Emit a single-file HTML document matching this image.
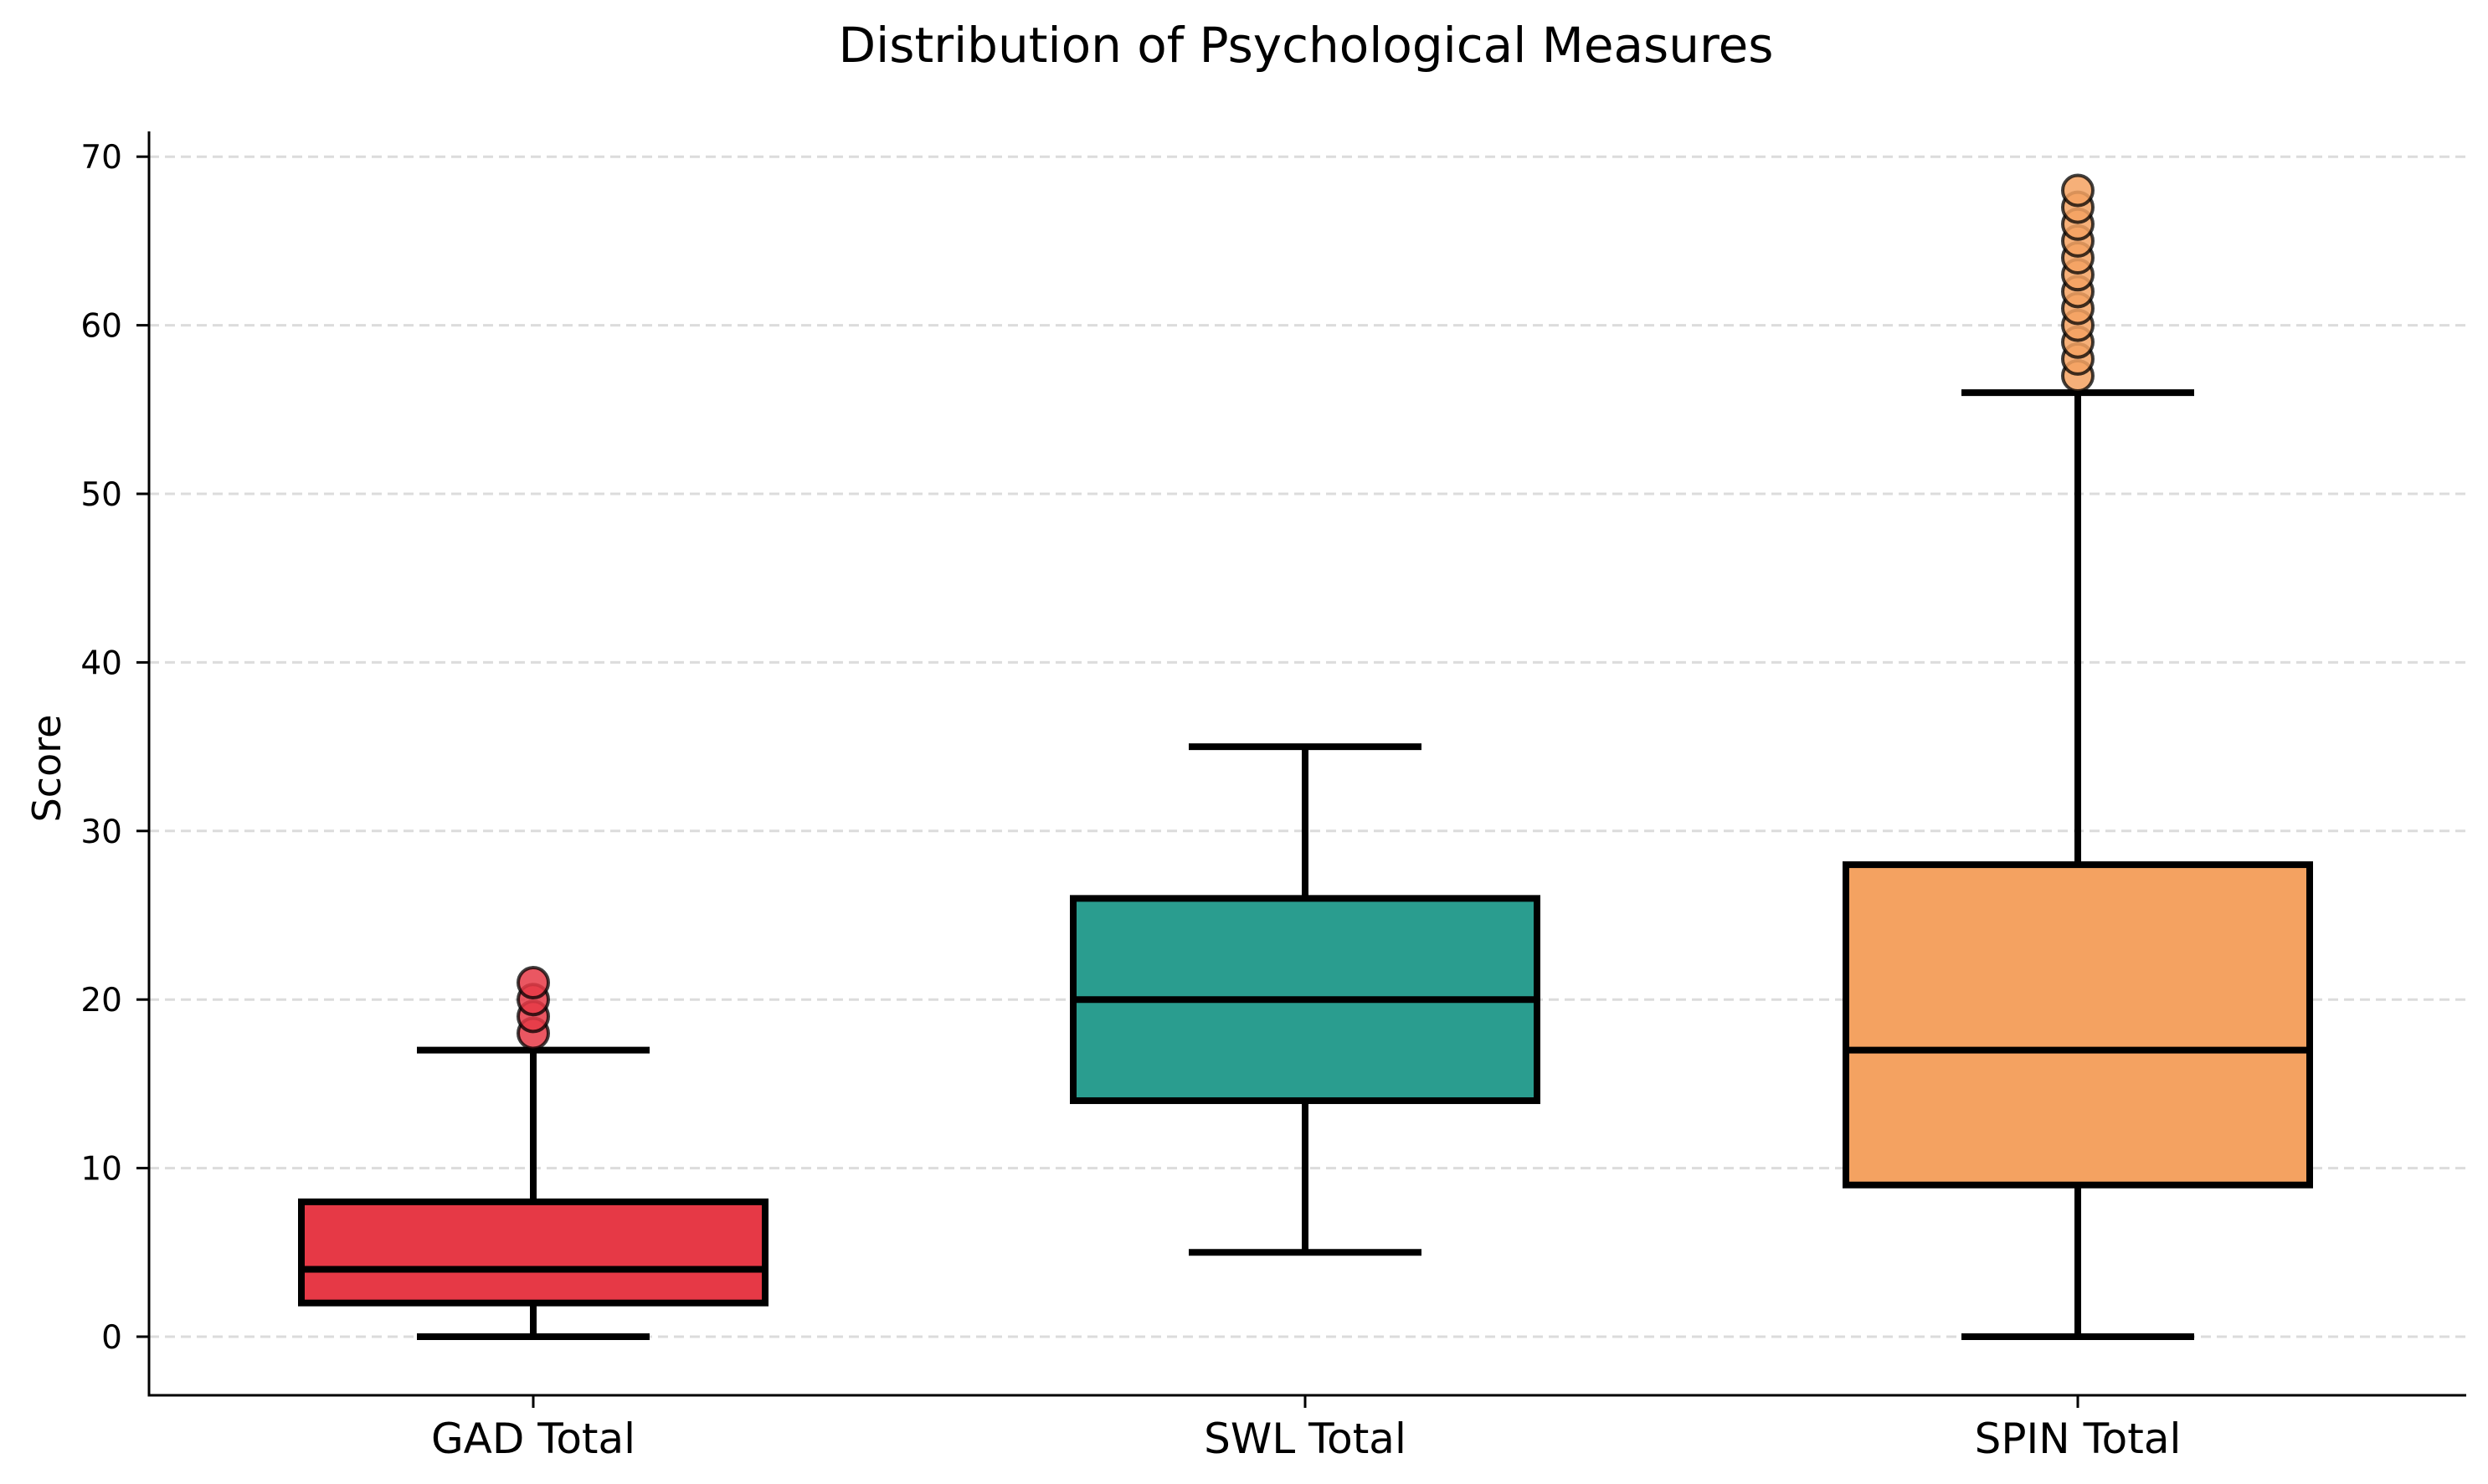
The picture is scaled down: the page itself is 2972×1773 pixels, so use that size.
<!DOCTYPE html>
<html><head><meta charset="utf-8"><style>
body{margin:0;background:#fff}
svg{display:block;font-family:"DejaVu Sans","Liberation Sans",sans-serif}
</style></head><body>
<svg id="chart" width="2972" height="1773" viewBox="0 0 2972 1773" xmlns="http://www.w3.org/2000/svg">
<text x="1560" y="74" font-size="58" text-anchor="middle">Distribution of Psychological Measures</text>
<text x="0" y="0" font-size="46" text-anchor="middle" transform="translate(72,918) rotate(-90)">Score</text>
<g id="grid"></g><g id="boxes"></g><g id="axes"></g>
</svg>
<script>
const categories = ["GAD Total","SWL Total","SPIN Total"];
const whiskerLow = [0,5,0];
const q1 = [2,14,9];
const medians = [4,20,17];
const q3 = [8,26,28];
const whiskerHigh = [17,35,56];
const outliers = [[18,19,20,21],[],[57,58,59,60,61,62,63,64,65,66,67,68]];
const colors = ["#e63946","#2a9d8f","#f4a261"];
const yTicks = [0,10,20,30,40,50,60,70];

const NS="http://www.w3.org/2000/svg";
const X0=178,X1=2946,YT=157,YB=1667;
const y=v=>1597-v*20.14;
const xc=[637,1559,2482];
const x=i=>xc[i];
const BW=277,CW=139,LW=8;
function mk(tag,at,parent){const e=document.createElementNS(NS,tag);for(const k in at)e.setAttribute(k,at[k]);parent.appendChild(e);return e;}
const grid=document.getElementById('grid'),boxes=document.getElementById('boxes'),axes=document.getElementById('axes');
yTicks.forEach(t=>{
  const g=mk('line',{x1:X0,x2:X1,y1:y(t),y2:y(t),stroke:'#dcdcdc','stroke-width':3,'stroke-dasharray':'12 7'},grid);
  
  
  const tk=mk('line',{x1:X0-15,x2:X0,y1:y(t),y2:y(t),stroke:'#000','stroke-width':3},axes);
  
  
  const lb=mk('text',{x:X0-32,y:y(t)+14,'font-size':39,'text-anchor':'end'},axes);
  lb.textContent=t;
  
  
});
categories.forEach((c,i)=>{
  const g=mk('g',{},boxes);
  
  
  const cx=x(i);
  mk('line',{x1:cx,x2:cx,y1:y(whiskerLow[i]),y2:y(q1[i]),stroke:'#000','stroke-width':LW},g);
  mk('line',{x1:cx,x2:cx,y1:y(q3[i]),y2:y(whiskerHigh[i]),stroke:'#000','stroke-width':LW},g);
  mk('line',{x1:cx-CW,x2:cx+CW,y1:y(whiskerLow[i]),y2:y(whiskerLow[i]),stroke:'#000','stroke-width':LW},g);
  mk('line',{x1:cx-CW,x2:cx+CW,y1:y(whiskerHigh[i]),y2:y(whiskerHigh[i]),stroke:'#000','stroke-width':LW},g);
  mk('rect',{x:cx-BW,y:y(q3[i]),width:2*BW,height:y(q1[i])-y(q3[i]),fill:colors[i],stroke:'#000','stroke-width':LW},g);
  mk('line',{x1:cx-BW,x2:cx+BW,y1:y(medians[i]),y2:y(medians[i]),stroke:'#000','stroke-width':LW},g);
  outliers[i].forEach(v=>{
    const o=mk('circle',{cx:cx,cy:y(v),r:18,fill:colors[i],'fill-opacity':0.85,stroke:'#000','stroke-opacity':0.75,'stroke-width':4},g);
    
    
  });
  const tk=mk('line',{x1:cx,x2:cx,y1:YB,y2:YB+15,stroke:'#000','stroke-width':3},axes);
  
  
  const lb=mk('text',{x:cx,y:1736,'font-size':50,'text-anchor':'middle'},axes);
  lb.textContent=c;
  
  
});
const ya=mk('line',{x1:X0,x2:X0,y1:YT,y2:YB+1.5,stroke:'#000','stroke-width':3},axes);


const xa=mk('line',{x1:X0-1.5,x2:X1,y1:YB,y2:YB,stroke:'#000','stroke-width':3},axes);


</script>
</body></html>
